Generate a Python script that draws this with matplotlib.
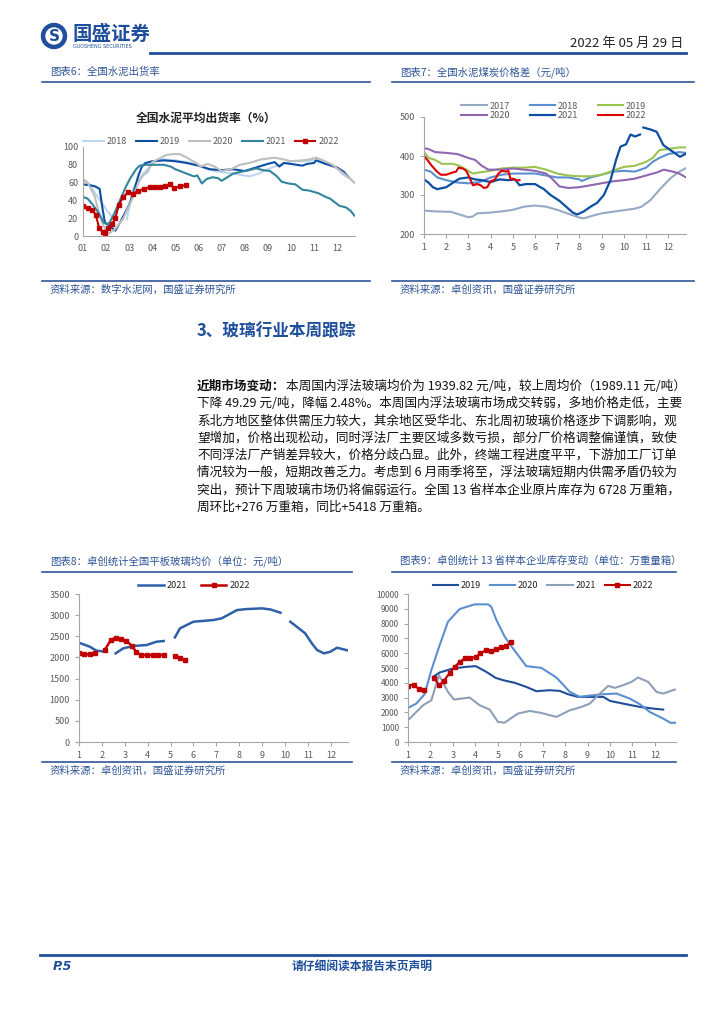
import numpy as np
import matplotlib
matplotlib.use('Agg')
import matplotlib.pyplot as plt
from matplotlib.patches import Circle

plt.rcParams['font.family'] = ['Noto Sans CJK SC', 'DejaVu Sans']

nan = np.nan

# ---------------- 图表6 全国水泥出货率 (%) ----------------
cem_m18 = [1.0, 1.3, 1.6, 1.8, 2.0, 2.2, 2.3, nan, 2.9, 3.05, 3.2, 3.4, 3.6, 3.9, 4.2, 4.5, 5.0, 5.5, 6.0, 6.3,
           6.7, 7.0, 7.5, 8.0, 8.2, 8.6, 9.0, 9.5, 10.0, 10.5, 11.0, 11.5, 12.0, 12.3, 12.5, 12.75]
cem_v18 = [62, 58, 45, 38, 30, 23, 20, nan, 19, 38, 55, 63, 70, 78, 85, 86, 85, 83, 80, 76,
           73, 72, 70, 68, 67, 70, 75, 80, 84, 84, 85, 83, 76, 68, 66, 60]
cem_m19 = [1.0, 1.3, 1.5, 1.72, 1.85, 1.95, 2.1, 2.25, 2.4, 2.6, 2.8, 3.0, 3.2, 3.4, 3.55, 3.7, 4.0, 4.5, 5.0, 5.5,
           6.0, 6.5, 7.0, 7.5, 8.0, 8.5, 9.0, 9.3, 9.5, 9.7, 10.0, 10.5, 10.7, 11.0, 11.1, 11.5, 12.0, 12.3, 12.5]
cem_v19 = [58, 57, 56, 53, 30, 15, 13, 9, 6, 15, 25, 35, 50, 68, 78, 82, 84, 85, 84, 82,
           79, 75, 74, 75, 73, 77, 81, 83, 78, 82, 81, 79, 81, 82, 85, 81, 77, 72, 66]
cem_m20 = [1.0, 1.2, 1.5, 1.75, 2.0, 2.15, 2.4, 2.75, 3.1, 3.4, 3.6, 3.8, 4.0, 4.3, 4.6, 4.9, 5.2, 5.5, 5.9, 6.1,
           6.4, 6.7, 7.0, 7.4, 7.8, 8.2, 8.7, 9.3, 9.7, 10.0, 10.5, 10.8, 11.1, 11.4, 11.8, 12.2, 12.5, 12.75]
cem_v20 = [64, 60, 45, 20, 5, 3, 8, 20, 40, 60, 68, 72, 83, 87, 91, 92, 92, 88, 82, 78,
           81, 78, 73, 75, 80, 82, 86, 88, 86, 84, 85, 86, 88, 85, 80, 72, 66, 60]
cem_m21 = [1.0, 1.2, 1.4, 1.7, 1.9, 2.05, 2.15, 2.35, 2.6, 2.85, 3.05, 3.3, 3.45, 3.7, 4.0, 4.5, 4.8, 5.0, 5.3, 5.6,
           5.8, 5.95, 6.15, 6.35, 6.6, 6.85, 7.0, 7.25, 7.5, 8.0, 8.2, 8.5, 8.8, 9.1, 9.4, 9.6, 9.9, 10.2, 10.5, 10.8,
           11.2, 11.5, 11.7, 11.9, 12.1, 12.4, 12.6, 12.75]
cem_v21 = [44, 42, 36, 25, 15, 13, 15, 25, 40, 55, 65, 75, 79, 80, 80, 80, 78, 75, 72, 69,
           67, 68, 59, 64, 66, 65, 62, 66, 70, 73, 74, 76, 74, 73, 67, 61, 59, 58, 52, 51,
           48, 44, 42, 38, 34, 32, 28, 23]
cem_m22 = [1.0, 1.2, 1.4, 1.55, 1.7, 1.85, 1.95, 2.1, 2.25, 2.4, 2.55, 2.75, 2.95, 3.15, 3.4, 3.65, 3.9, 4.1,
           4.35, 4.55, 4.75, 4.95, 5.2, 5.45]
cem_v22 = [34, 31, 29, 24, 9, 5, 3, 9, 13, 20, 35, 44, 49, 47, 51, 53, 55, 55, 55, 56, 58, 54, 56, 57]
cem_labels = ['01', '02', '03', '04', '05', '06', '07', '08', '09', '10', '11', '12']

# ---------------- 图表7 全国水泥煤炭价格差 (元/吨) ----------------
gap_m17 = [1.0, 1.5, 2.0, 2.2, 2.6, 3.0, 3.2, 3.4, 4.0, 4.5, 5.0, 5.5, 6.0, 6.5, 7.0, 7.5, 8.0, 8.2, 8.6, 9.0,
           9.5, 10.0, 10.5, 10.8, 11.2, 11.6, 12.1, 12.5, 12.8]
gap_v17 = [260, 258, 257, 257, 250, 243, 245, 253, 255, 258, 262, 270, 273, 270, 262, 252, 242, 240, 247, 253,
           257, 261, 265, 270, 287, 313, 343, 360, 369]
gap_m18 = [1.0, 1.3, 1.6, 2.0, 2.5, 3.0, 3.5, 4.0, 4.5, 5.0, 5.5, 6.0, 6.5, 7.0, 7.5, 8.0, 8.1, 8.5, 9.0, 9.5,
           10.0, 10.5, 11.0, 11.3, 11.6, 12.0, 12.5, 12.8]
gap_v18 = [365, 360, 345, 338, 332, 330, 333, 345, 352, 355, 355, 355, 350, 345, 345, 340, 336, 345, 352, 360,
           362, 360, 370, 385, 395, 405, 410, 408]
gap_m19 = [1.0, 1.2, 1.5, 1.8, 2.3, 2.6, 2.9, 3.2, 3.5, 4.0, 4.5, 5.0, 5.5, 6.0, 6.5, 7.0, 7.5, 8.0, 8.5, 9.0,
           9.5, 10.0, 10.5, 11.0, 11.3, 11.6, 12.0, 12.5, 12.8]
gap_v19 = [410, 395, 390, 380, 380, 375, 365, 355, 358, 362, 368, 370, 370, 372, 365, 355, 350, 348, 348, 352,
           362, 372, 375, 385, 395, 415, 418, 422, 422]
gap_m20 = [1.0, 1.2, 1.5, 2.0, 2.5, 3.0, 3.3, 3.6, 3.9, 4.5, 5.0, 5.5, 6.0, 6.5, 6.8, 7.1, 7.5, 8.0, 8.5, 9.0,
           9.5, 10.0, 10.5, 11.0, 11.5, 11.8, 12.2, 12.5, 12.8]
gap_v20 = [420, 418, 410, 408, 405, 395, 390, 375, 365, 365, 368, 365, 362, 355, 340, 322, 318, 320, 325, 330,
           335, 338, 342, 350, 358, 365, 360, 355, 345]
gap_m21 = [1.0, 1.2, 1.4, 1.6, 2.0, 2.4, 2.6, 3.0, 3.3, 3.6, 4.0, 4.4, 4.8, 5.1, 5.3, 5.6, 6.0, 6.4, 6.7, 7.1,
           7.4, 7.7, 7.9, 8.2, 8.5, 8.8, 9.1, 9.4, 9.65, 9.85, 10.1, 10.3, 10.5, 10.73, nan, 10.88, 11.2, 11.48,
           11.78, 12.1, 12.53, 12.8]
gap_v21 = [340, 332, 320, 315, 320, 335, 342, 345, 340, 338, 333, 340, 338, 340, 325, 328, 328, 315, 300, 285,
           270, 255, 250, 258, 270, 280, 300, 338, 390, 424, 430, 455, 450, 455, nan, 473, 468, 462,
           428, 415, 398, 406]
gap_m22 = [1.0, 1.15, 1.35, 1.55, 1.75, 2.0, 2.3, 2.45, 2.55, 2.75, 2.9, 3.05, 3.2, 3.4, 3.55, 3.7, 3.85, 4.0,
           4.2, 4.35, 4.5, 4.7, 4.8, 4.9, 5.0, 5.15, 5.3]
gap_v22 = [400, 390, 375, 362, 352, 352, 358, 360, 370, 368, 362, 345, 325, 328, 325, 318, 320, 335,
           340, 355, 362, 360, 362, 340, 342, 338, 338]

# ---------------- 图表8 全国平板玻璃均价 (元/吨) ----------------
glass_m21 = [1.0, 1.47, 1.76, 2.2, nan, 2.6, 2.93, 3.36, 3.95, 4.39, 4.7, nan, 5.19, 5.41, 6.0, 6.87, 7.23, 7.9,
             8.33, 9.0, 9.35, 9.8, nan, 10.23, 10.88, 11.17, 11.4, 11.7, 11.98, 12.27, 12.78]
glass_v21 = [2348, 2254, 2160, 2135, nan, 2096, 2214, 2270, 2293, 2372, 2388, nan, 2474, 2687, 2845, 2884, 2924,
             3120, 3144, 3160, 3136, 3058, nan, 2845, 2569, 2333, 2175, 2096, 2135, 2230, 2160]
glass_m22 = [1.0, 1.22, 1.47, 1.69, nan, 2.12, 2.39, 2.6, 2.85, 3.07, 3.3, 3.51, 3.73, 3.98, 4.24, 4.46, 4.71,
             nan, 5.19, 5.41, 5.63]
glass_v22 = [2112, 2072, 2072, 2112, nan, 2175, 2411, 2466, 2427, 2396, 2280, 2120, 2057, 2057, 2057, 2057,
             2057, nan, 2041, 1994, 1939]

# ---------------- 图表9 13省样本企业库存 (万重量箱) ----------------
inv_m19 = [2.11, 2.41, 3.0, 3.6, 4.02, 4.49, 4.9, 5.24, 5.76, 6.27, 6.72, 7.3, 7.76, 8.13, 8.58, 9.1, 9.7, 10.0,
           10.58, 11.33, 11.92, 12.37]
inv_v19 = [4400, 4695, 4966, 5079, 5124, 4740, 4334, 4176, 3995, 3724, 3431, 3499, 3454, 3228, 3047, 3047, 3047,
           2777, 2596, 2370, 2257, 2190]
inv_m20 = [1.0, 1.37, 1.74, 2.04, 2.41, 2.78, 3.3, 3.97, 4.57, 4.71, 4.94, 5.31, 5.68, 6.27, 6.94, 7.61, 8.21,
           8.65, 9.1, 9.7, 10.29, 10.88, 11.33, 11.77, 12.37, 12.71, 12.93]
inv_v20 = [2302, 2596, 3228, 4853, 6546, 8126, 8984, 9300, 9300, 9142, 8239, 7110, 6321, 5124, 5011, 4357, 3386,
           3047, 3138, 3228, 3273, 2935, 2551, 2032, 1580, 1287, 1309]
inv_m21 = [1.0, 1.37, 1.67, 2.04, 2.38, 2.78, 3.05, 3.38, 3.75, 4.19, 4.64, 5.01, 5.31, 5.61, 5.9, 6.42, 6.94,
           7.61, 8.21, 8.73, 9.1, 9.47, 9.92, 10.21, 10.58, 10.96, 11.25, 11.7, 12.07, 12.37, 12.89]
inv_v21 = [1467, 2032, 2483, 2822, 4515, 3386, 2867, 2935, 3002, 2483, 2190, 1354, 1309, 1625, 1919, 2099, 1964,
           1693, 2144, 2370, 2596, 3160, 3792, 3657, 3837, 4063, 4357, 4063, 3386, 3273, 3544]
inv_m22 = [1.0, 1.25, 1.49, 1.71, nan, 2.16, 2.38, 2.6, 2.86, 3.08, 3.3, 3.53, 3.75, 4.02, 4.22, 4.46, 4.69,
           4.91, 5.13, 5.35, 5.58]
inv_v22 = [3792, 3883, 3567, 3544, nan, 4357, 3837, 4131, 4673, 5079, 5418, 5643, 5643, 5756, 5982, 6208, 6163,
           6275, 6388, 6479, 6728]

month_labels = [str(i) for i in range(1, 13)]

text_lines = [
    '本周国内浮法玻璃均价为 1939.82 元/吨，较上周均价（1989.11 元/吨）',
    '下降 49.29 元/吨，降幅 2.48%。本周国内浮法玻璃市场成交转弱，多地价格走低，主要',
    '系北方地区整体供需压力较大，其余地区受华北、东北周初玻璃价格逐步下调影响，观',
    '望增加，价格出现松动，同时浮法厂主要区域多数亏损，部分厂价格调整偏谨慎，致使',
    '不同浮法厂产销差异较大，价格分歧凸显。此外，终端工程进度平平，下游加工厂订单',
    '情况较为一般，短期改善乏力。考虑到 6 月雨季将至，浮法玻璃短期内供需矛盾仍较为',
    '突出，预计下周玻璃市场仍将偏弱运行。全国 13 省样本企业原片库存为 6728 万重箱，',
    '周环比+276 万重箱，同比+5418 万重箱。',
]

W, H = 724, 1024
BLUE = '#1F4E9A'
TICK = '#595959'
SPINE = '#A6A6A6'
FS = 6.5

fig = plt.figure(figsize=(7.24, 10.24), dpi=100)

# 整页背景坐标(像素)
bg = fig.add_axes([0, 0, 1, 1])
bg.set_xlim(0, W)
bg.set_ylim(H, 0)
bg.axis('off')


def box(l, t, r, b):
    return [l / W, 1 - b / H, (r - l) / W, (b - t) / H]


def fpos(x, y):
    return (x / W, 1 - y / H)


def style_axes(ax, ticklen=3):
    for s in ['top', 'right']:
        ax.spines[s].set_visible(False)
    for s in ['left', 'bottom']:
        ax.spines[s].set_color(SPINE)
        ax.spines[s].set_linewidth(0.8)
    ax.tick_params(colors=SPINE, labelcolor=TICK, labelsize=FS, length=ticklen, width=0.8)
    ax.patch.set_alpha(0)


# ---- 页眉 ----
bg.add_patch(Circle((54, 36), 12.5, color=BLUE))
bg.add_patch(Circle((54, 36), 8, color='white'))
bg.text(54, 36.5, 'S', color=BLUE, fontsize=11, fontweight='bold', ha='center', va='center', family='DejaVu Sans')
bg.text(73, 34, '国盛证券', color=BLUE, fontsize=14, fontweight='bold', va='center')
bg.text(73, 47, 'GUOSHENG SECURITIES', color=BLUE, fontsize=3.5, va='center', family='DejaVu Sans')
bg.text(683, 43, '2022 年 05 月 29 日', color='#222222', fontsize=9.5, ha='right', va='center')
bg.plot([150, 686], [53, 53], color=BLUE, lw=2)

# ---- 图表标题与来源 ----
def panel_frame(x0, x1, y_title, y_line, y_bot, title, source):
    bg.text(x0 + 8, y_title, title, color='#2F5597', fontsize=7.5, va='center')
    bg.plot([x0, x1], [y_line, y_line], color='#2F5597', lw=1.2)
    bg.plot([x0, x1], [y_bot, y_bot], color='#2F5597', lw=1.2)
    bg.text(x0 + 8, y_bot + 9, source, color='#2F5597', fontsize=7.5, va='center')


panel_frame(42, 370, 72, 82, 281, '图表6：全国水泥出货率', '资料来源：数字水泥网，国盛证券研究所')
panel_frame(392, 694, 72, 82, 281, '图表7：全国水泥煤炭价格差（元/吨）', '资料来源：卓创资讯，国盛证券研究所')
panel_frame(42, 352, 561, 572, 762, '图表8：卓创统计全国平板玻璃均价（单位：元/吨）', '资料来源：卓创资讯，国盛证券研究所')
panel_frame(392, 676, 561, 572, 762, '图表9：卓创统计 13 省样本企业库存变动（单位：万重量箱）', '资料来源：卓创资讯，国盛证券研究所')

# ---- 图表6 ----
ax6 = fig.add_axes(box(83, 147, 355, 236))
ax6.plot(cem_m18, cem_v18, color='#BDD7EE', lw=1.5, label='2018')
ax6.plot(cem_m19, cem_v19, color='#0B4EA2', lw=1.5, label='2019')
ax6.plot(cem_m20, cem_v20, color='#BFBFBF', lw=1.5, label='2020')
ax6.plot(cem_m21, cem_v21, color='#31859C', lw=1.5, label='2021')
ax6.plot(cem_m22, cem_v22, color='#C00000', lw=1.5, marker='s', markersize=2.2, label='2022')
ax6.set_xlim(1, 12.78)
ax6.set_ylim(0, 100)
ax6.set_yticks(range(0, 101, 20))
ax6.set_xticks(range(1, 13))
ax6.set_xticklabels(cem_labels)
style_axes(ax6, ticklen=0)
ax6.tick_params(axis='x', pad=6)
ax6.legend(loc='center', bbox_to_anchor=fpos(211, 142), bbox_transform=fig.transFigure, ncol=5,
           frameon=False, fontsize=FS, handlelength=2.3, columnspacing=1.0, handletextpad=0.3,
           labelcolor=TICK)
bg.text(206, 118, '全国水泥平均出货率（%）', fontsize=8.5, fontweight='bold', ha='center', va='center',
        color='#222222')

# ---- 图表7 ----
ax7 = fig.add_axes(box(424, 117, 686, 234))
l17, = ax7.plot(gap_m17, gap_v17, color='#97A9C4', lw=1.5, label='2017')
l18, = ax7.plot(gap_m18, gap_v18, color='#5B8FD0', lw=1.5, label='2018')
l19, = ax7.plot(gap_m19, gap_v19, color='#9BC34F', lw=1.5, label='2019')
l20, = ax7.plot(gap_m20, gap_v20, color='#8E67B0', lw=1.5, label='2020')
l21, = ax7.plot(gap_m21, gap_v21, color='#0B4EA2', lw=1.6, label='2021')
l22, = ax7.plot(gap_m22, gap_v22, color='#E00000', lw=1.5, label='2022')
ax7.set_xlim(1, 12.8)
ax7.set_ylim(200, 500)
ax7.set_yticks([200, 300, 400, 500])
ax7.set_xticks(range(1, 13))
ax7.set_xticklabels(month_labels)
style_axes(ax7)
hs = [l17, l20, l18, l21, l19, l22]
ax7.legend(hs, [h.get_label() for h in hs], loc='center', bbox_to_anchor=fpos(554, 111),
           bbox_transform=fig.transFigure, ncol=3, frameon=False, fontsize=FS, handlelength=2.8,
           columnspacing=2.2, handletextpad=0.3, labelspacing=0.1, labelcolor=TICK)

# ---- 正文 ----
bg.text(197, 331, '3、玻璃行业本周跟踪', color=BLUE, fontsize=12, fontweight='bold', va='center')
y0, dy = 386, 17.3
bg.text(197, y0, '近期市场变动：', fontsize=9.1, fontweight='bold', va='center', color='#111111')
bg.text(197 + 7 * 12.65, y0, text_lines[0], fontsize=9.1, va='center', color='#111111')
for i, line in enumerate(text_lines[1:], start=1):
    bg.text(197, y0 + i * dy, line, fontsize=9.1, va='center', color='#111111')

# ---- 图表8 ----
ax8 = fig.add_axes(box(79, 594, 348, 742))
ax8.plot(glass_m21, glass_v21, color='#2E5FA8', lw=1.8, label='2021')
ax8.plot(glass_m22, glass_v22, color='#C00000', lw=1.8, marker='s', markersize=2.5, label='2022')
ax8.set_xlim(1, 12.75)
ax8.set_ylim(0, 3500)
ax8.set_yticks(range(0, 3501, 500))
ax8.set_xticks(range(1, 13))
ax8.set_xticklabels(month_labels)
style_axes(ax8)
ax8.legend(loc='center', bbox_to_anchor=fpos(194, 586), bbox_transform=fig.transFigure, ncol=2,
           frameon=False, fontsize=FS, handlelength=2.8, columnspacing=1.6, handletextpad=0.3,
           labelcolor='#222222')

# ---- 图表9 ----
ax9 = fig.add_axes(box(408, 594, 676, 742))
ax9.plot(inv_m19, inv_v19, color='#1F4E9A', lw=1.5, label='2019')
ax9.plot(inv_m20, inv_v20, color='#5B8FD0', lw=1.5, label='2020')
ax9.plot(inv_m21, inv_v21, color='#8E9FB8', lw=1.5, label='2021')
ax9.plot(inv_m22, inv_v22, color='#C00000', lw=1.5, marker='s', markersize=2.3, label='2022')
ax9.set_xlim(1, 12.94)
ax9.set_ylim(0, 10000)
ax9.set_yticks(range(0, 10001, 1000))
ax9.set_xticks(range(1, 13))
ax9.set_xticklabels(month_labels)
style_axes(ax9)
ax9.tick_params(axis='y', labelsize=6)
ax9.legend(loc='center', bbox_to_anchor=fpos(543, 586), bbox_transform=fig.transFigure, ncol=4,
           frameon=False, fontsize=FS, handlelength=2.8, columnspacing=1.0, handletextpad=0.3,
           labelcolor='#222222')

# ---- 页脚 ----
bg.plot([40, 686], [955, 955], color=BLUE, lw=2)
bg.text(53, 966, 'P.5', color=BLUE, fontsize=9, fontweight='bold', fontstyle='italic', va='center',
        family='DejaVu Sans')
bg.text(362, 966, '请仔细阅读本报告末页声明', color=BLUE, fontsize=8.5, fontweight='bold', ha='center',
        va='center')

fig.savefig('out.png', dpi=100)
